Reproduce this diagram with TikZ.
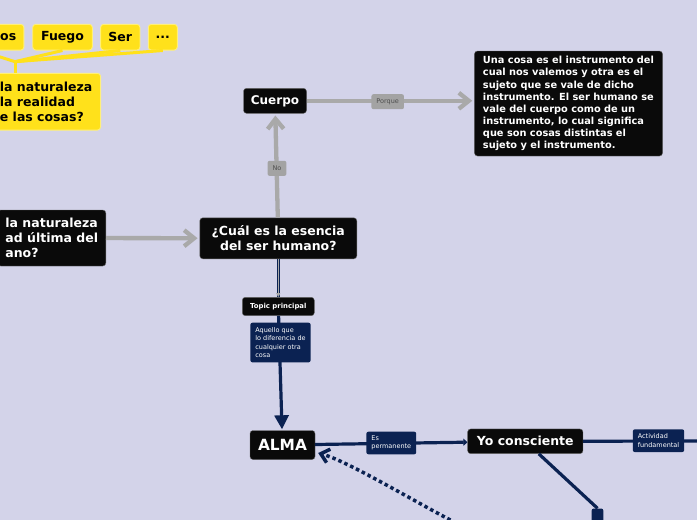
\documentclass[tikz,border=0pt]{standalone}
\usepackage{fontspec}
\setmainfont{DejaVu Sans}
\usepackage{tikz}
\usetikzlibrary{arrows.meta}
\definecolor{bg}{HTML}{D3D3E9}
\definecolor{blk}{HTML}{0A0A0A}
\definecolor{nvy}{HTML}{0B2252}
\definecolor{yel}{HTML}{FFE11B}
\definecolor{yelb}{HTML}{FFF07A}
\definecolor{gline}{HTML}{A9A9A9}
\definecolor{gtag}{HTML}{A3A3A3}
\definecolor{gtxt}{HTML}{4E4E4E}
\tikzset{
  topicbox/.style={fill=blk,draw=black!60,line width=0.4pt,rounded corners=3pt,
    text=white,inner sep=0pt,align=center,
    font=\bfseries\fontsize{12.5}{15}\selectfont},
  ideabox/.style={fill=yel,draw=yelb,line width=0.9pt,rounded corners=3pt,
    text=black,inner sep=0pt,font=\bfseries\fontsize{12.5}{15}\selectfont},
  relbox/.style={fill=nvy,rounded corners=2pt,text=white,align=left,
    inner xsep=5pt,inner ysep=4pt,font=\fontsize{6.5}{8.3}\selectfont},
  greytag/.style={fill=gtag,rounded corners=2pt,text=gtxt,inner xsep=5pt,
    inner ysep=0pt,minimum height=15pt,font=\fontsize{6.5}{8}\selectfont},
  greyline/.style={gline,line width=4.3pt,shorten >=2pt,
    -{Straight Barb[length=10pt,width=16pt]}},
  navyline/.style={nvy,line width=3.2pt},
  yelline/.style={yel,line width=3pt}
}

\begin{document}
\begin{tikzpicture}[x=1pt,y=-1pt]
\path[use as bounding box] (0,0) rectangle (697,520);
\clip (0,0) rectangle (697,520);
\fill[bg] (0,0) rectangle (697,520);

% yellow branch, top left (cut by the frame)
\node[ideabox,anchor=east,text width=73pt,align=right,inner xsep=7.6pt,
  minimum height=25.7pt] (ideaos) at (24.3,37.2) {os};
\node[ideabox,minimum width=59.6pt,minimum height=25.7pt] (fuego) at (62.5,37.2) {Fuego};
\node[ideabox,minimum width=39.3pt,minimum height=25.7pt] (ser) at (120.3,37.2) {Ser};
\node[ideabox,minimum width=29pt,minimum height=25.7pt] (etc) at (162.8,37.2) {...};
\node[ideabox,anchor=east,align=left,inner xsep=8.3pt,minimum height=56.7pt]
  (realidad) at (101,101.7) {la naturaleza\\la realidad\\e las cosas?};
\coordinate (yj) at (15,61.7);
\draw[yelline] (yj |- realidad.north) -- (yj);
\foreach \n in {ideaos,fuego,ser,etc}
  \draw[yelline] (yj) -- (\n.south);

% black topics
\node[topicbox,anchor=east,align=left,inner xsep=7.7pt,minimum height=56pt]
  (natural) at (106,238) {la naturaleza\\ad última del\\ano?};
\node[topicbox,minimum width=157pt,minimum height=41pt] (esencia) at (278.3,238.3)
  {¿Cuál es la esencia\\del ser humano?};
\node[topicbox,minimum width=63pt,minimum height=25pt,
  font=\bfseries\fontsize{12}{14}\selectfont] (cuerpo) at (275,100.8) {Cuerpo};
\node[topicbox,align=left,inner xsep=8.5pt,minimum height=105pt,
  font=\bfseries\fontsize{9.8}{12.1}\selectfont] (razon) at (568.5,103.5)
  {Una cosa es el instrumento del\\cual nos valemos y otra es el\\sujeto que se vale de dicho\\instrumento. El ser humano se\\vale del cuerpo como de un\\instrumento, lo cual significa\\que son cosas distintas el\\sujeto y el instrumento.};

\draw[greyline] (natural) -- (esencia);
\draw[greyline] (esencia) -- (cuerpo);
\draw[greyline] (cuerpo) -- (cuerpo -| razon.west);
\node[greytag] (no) at (277,168.3) {No};
\node[greytag] (porque) at (387.7,101.7) {Porque};

% navy part
\node[topicbox,minimum width=72pt,minimum height=18.4pt,
  font=\bfseries\fontsize{6.9}{8}\selectfont] (topic) at (278.3,306.5) {Topic principal};
\node[topicbox,minimum width=65pt,minimum height=29pt,
  font=\bfseries\fontsize{15.4}{18}\selectfont] (alma) at (282.5,445) {ALMA};
\node[topicbox,minimum width=115.3pt,minimum height=24.7pt] (yo) at (525.3,441.3) {Yo consciente};
\node[fill=nvy,rounded corners=2pt,minimum width=11.6pt,minimum height=24pt,
  inner sep=0pt,anchor=north] (botn) at (597.5,508.3) {};
\coordinate (offr) at (712,441);

\draw[navyline] (esencia) -- (topic);
\draw[gline,line width=1pt,-{Triangle[length=4pt,width=4pt]}] (esencia) -- (topic);
\draw[navyline,shorten >=1pt,-{Triangle[length=14pt,width=14pt]}] (topic) -- (alma);
\draw[navyline,-{Triangle[length=4pt,width=7pt]}] (alma) -- (yo);
\draw[navyline] (yo) -- (offr);
\draw[navyline] (yo) -- (botn.north);
\draw[nvy,line width=3.5pt,dash pattern=on 3.5pt off 3pt,
  -{Straight Barb[length=8pt,width=14pt]}]
  (462,526) .. controls (420,505) and (350,462) .. ([xshift=3pt,yshift=-8pt]alma.east);

\node[relbox,minimum height=39.6pt] (aquello) at (280.5,342.5)
  {Aquello que\\lo diferencia de\\cualquier otra\\cosa};
\node[relbox,minimum height=22.6pt] (perm) at (391.3,443) {Es\\permanente};
\node[relbox,minimum height=22.7pt] (activ) at (658.5,440.7) {Actividad\\fundamental};
\end{tikzpicture}
\end{document}
